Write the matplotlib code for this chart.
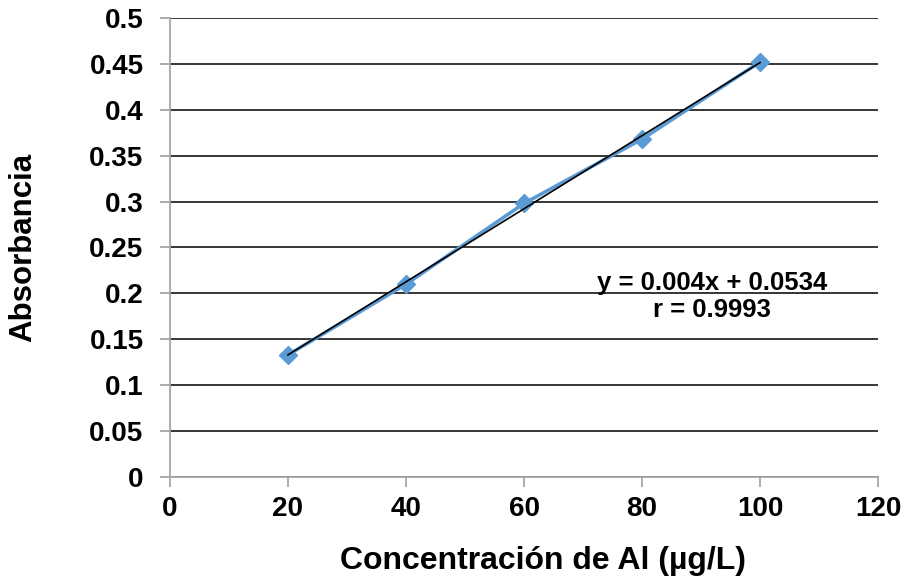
import numpy as np
import matplotlib.pyplot as plt

conc = [20, 40, 60, 80, 100]
absorb = [0.133, 0.210, 0.298, 0.368, 0.452]
eq_text = "y = 0.004x + 0.0534\nr = 0.9993"

plt.rcParams['font.family'] = ['Liberation Sans', 'DejaVu Sans']
plt.rcParams['font.weight'] = 'bold'

fig = plt.figure(figsize=(9.08, 5.87), dpi=100)
ax = fig.add_axes([0.1872, 0.1874, 0.7798, 0.782])

# trendline
m, b = np.polyfit(conc, absorb, 1)
xs = np.array([conc[0], conc[-1]])
ax.plot(conc, absorb, color='#5B9BD5', lw=2.6, marker='D', markersize=9, zorder=3)
ax.plot(xs, m * xs + b, color='black', lw=1.2, zorder=4)

ax.set_xlim(0, 120)
ax.set_ylim(0, 0.5)
ax.set_xticks(range(0, 121, 20))
ax.set_yticks(np.arange(0, 0.51, 0.05))
ax.set_yticklabels(['0', '0.05', '0.1', '0.15', '0.2', '0.25', '0.3', '0.35', '0.4', '0.45', '0.5'])
ax.yaxis.grid(True, color='black', lw=1.1)
ax.set_axisbelow(True)

for s in ['top', 'right']:
    ax.spines[s].set_visible(False)
for s in ['left', 'bottom']:
    ax.spines[s].set_color('#A6A6A6')
    ax.spines[s].set_linewidth(1.3)
ax.tick_params(axis='both', colors='#A6A6A6', length=7, width=1.3, labelsize=20, labelcolor='black')
ax.tick_params(axis='x', pad=7)
ax.tick_params(axis='y', pad=12)

ax.set_xlabel("Concentración de Al (µg/L)", fontsize=23, fontweight='bold', labelpad=17)
ax.xaxis.label.set_x(0.527)
ax.set_ylabel("Absorbancia", fontsize=22.5, fontweight='bold', labelpad=37)

ax.text(91.8, 0.197, eq_text, ha='center', va='center', fontsize=18.5, fontweight='bold', linespacing=1.15)

plt.savefig('out.png', dpi=100)
